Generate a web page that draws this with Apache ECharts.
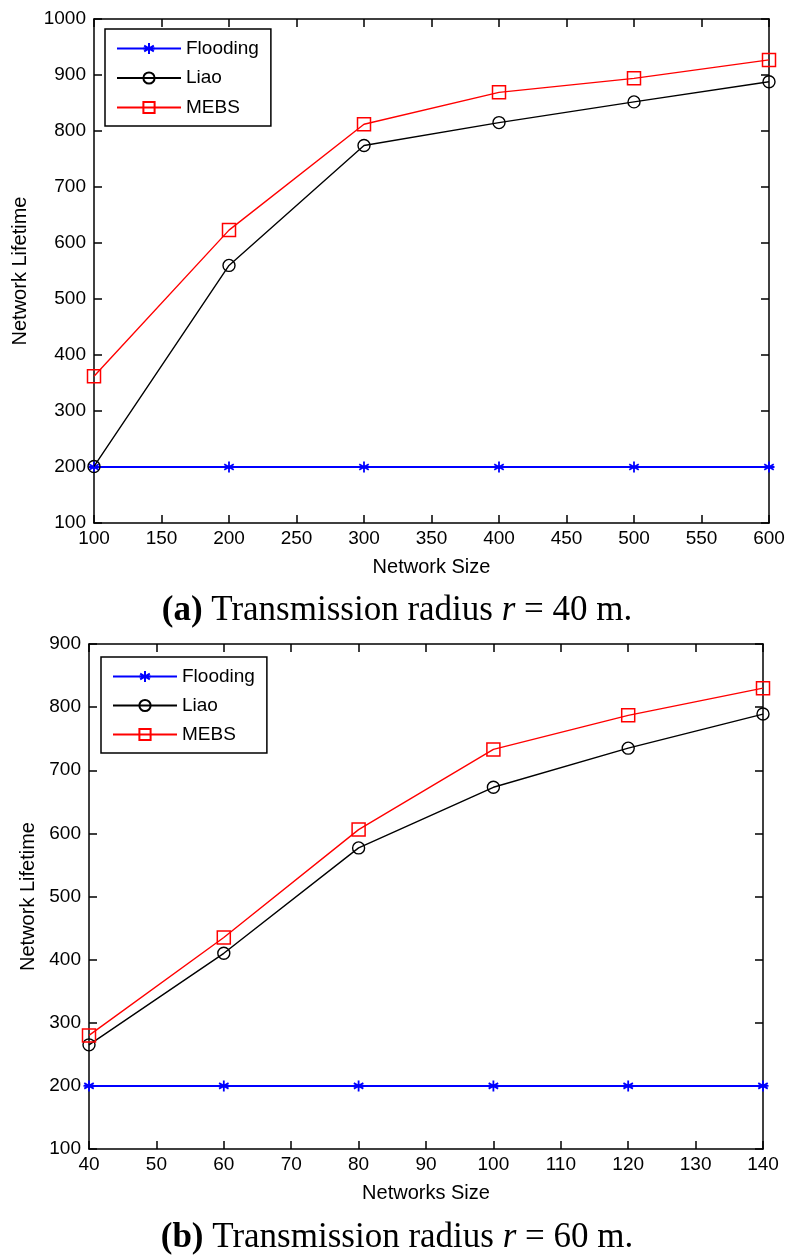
<!DOCTYPE html>
<html><head><meta charset="utf-8">
<script src="https://cdn.jsdelivr.net/npm/echarts@6/dist/echarts.min.js"></script>
<style>html,body{margin:0;padding:0;background:#fff}#c{width:794px;height:1260px}</style>
</head><body><div id="c"></div>
<script>
// Chart (a): r = 40 m
const sizesA = [100, 200, 300, 400, 500, 600];
const floodingA = [200, 200, 200, 200, 200, 200];
const liaoA = [201, 560, 774, 815, 852, 888];
const mebsA = [362, 623, 812, 869, 894, 927];
// Chart (b): r = 60 m
const sizesB = [40, 60, 80, 100, 120, 140];
const floodingB = [200, 200, 200, 200, 200, 200];
const liaoB = [265, 410, 577, 673, 735, 789];
const mebsB = [280, 435, 606, 733, 787, 830];

const seriesNames = ['Flooding', 'Liao', 'MEBS'];
const captionA = ['a', ' Transmission radius ', 'r', ' = 40 m.'];
const captionB = ['b', ' Transmission radius ', 'r', ' = 60 m.'];

const pair = (xs, ys) => xs.map((x, i) => [x, ys[i]]);
const starPath = 'path://M0,-5L0,5M-4.33,-2.5L4.33,2.5M-4.33,2.5L4.33,-2.5M-5,0L5,0';
const FONT = 'Liberation Sans, Arial, sans-serif';
const SERIF = 'Liberation Serif, Times New Roman, serif';

function mkSeries(gi, xs, f, l, m) {
  return [
    {name: seriesNames[0], type: 'line', xAxisIndex: gi*2, yAxisIndex: gi*2, data: pair(xs, f),
     symbol: starPath, symbolSize: 11, color: '#0000ff',
     lineStyle: {color: '#0000ff', width: 2},
     itemStyle: {color: 'none', borderColor: '#0000ff', borderWidth: 1.8}, z: 3},
    {name: seriesNames[1], type: 'line', xAxisIndex: gi*2, yAxisIndex: gi*2, data: pair(xs, l),
     symbol: 'circle', symbolSize: 12, color: '#000',
     lineStyle: {color: '#000', width: 1.4},
     itemStyle: {color: 'rgba(0,0,0,0)', borderColor: '#000', borderWidth: 1.4}, z: 4},
    {name: seriesNames[2], type: 'line', xAxisIndex: gi*2, yAxisIndex: gi*2, data: pair(xs, m),
     symbol: 'rect', symbolSize: 13, color: '#ff0000',
     lineStyle: {color: '#ff0000', width: 1.4},
     itemStyle: {color: 'rgba(0,0,0,0)', borderColor: '#ff0000', borderWidth: 1.5}, z: 5}
  ];
}

const tickStyle = {inside: true, length: 8, lineStyle: {color: '#000', width: 1.5}};
const lineStyleAx = {onZero: false, lineStyle: {color: '#000', width: 1.5}};
function xAxes(gi, min, max, interval, name, gap) {
  return [
    {type: 'value', gridIndex: gi, min: min, max: max, interval: interval, position: 'bottom',
     name: name, nameLocation: 'middle', nameGap: gap,
     nameTextStyle: {fontFamily: FONT, fontSize: 20, color: '#000'},
     axisLine: lineStyleAx, axisTick: tickStyle,
     axisLabel: {fontFamily: FONT, fontSize: 19, color: '#000', margin: 6, formatter: v => String(v)},
     splitLine: {show: false}},
    {type: 'value', gridIndex: gi, min: min, max: max, interval: interval, position: 'top',
     axisLine: lineStyleAx, axisTick: tickStyle,
     axisLabel: {show: false}, splitLine: {show: false}}
  ];
}
function yAxes(gi, min, max, interval, name, gap) {
  return [
    {type: 'value', gridIndex: gi, min: min, max: max, interval: interval, position: 'left',
     name: name, nameLocation: 'middle', nameGap: gap,
     nameTextStyle: {fontFamily: FONT, fontSize: 20, color: '#000'},
     axisLine: lineStyleAx, axisTick: tickStyle,
     axisLabel: {fontFamily: FONT, fontSize: 19, color: '#000', margin: 8, formatter: v => String(v)},
     splitLine: {show: false}},
    {type: 'value', gridIndex: gi, min: min, max: max, interval: interval, position: 'right',
     axisLine: lineStyleAx, axisTick: tickStyle,
     axisLabel: {show: false}, splitLine: {show: false}}
  ];
}

function legend(left, top, gap) {
  return {data: seriesNames, orient: 'vertical', left: left, top: top,
    itemWidth: 64, itemHeight: 14, itemGap: gap,
    backgroundColor: '#fff', borderColor: '#000', borderWidth: 1.5,
    padding: [10, 12, 9, 11], borderRadius: 0,
    textStyle: {fontFamily: FONT, fontSize: 19, color: '#000'}};
}
function caption(parts, top) {
  return {text: '{b|(' + parts[0] + ')}{n|' + parts[1] + '}{i|' + parts[2] + '}{n|' + parts[3] + '}',
    left: 'center', top: top,
    textStyle: {fontWeight: 'normal', rich: {
      b: {fontFamily: SERIF, fontSize: 35, fontWeight: 'bold', color: '#000'},
      n: {fontFamily: SERIF, fontSize: 35, fontWeight: 'normal', color: '#000'},
      i: {fontFamily: SERIF, fontSize: 35, fontWeight: 'normal', fontStyle: 'italic', color: '#000'}
    }}};
}

const chart = echarts.init(document.getElementById('c'), null, {renderer: 'canvas'});
chart.setOption({
  backgroundColor: '#fff',
  animation: false,
  title: [caption(captionA, 588), caption(captionB, 1215)],
  legend: [legend(105, 29, 10.5), legend(101, 657, 10)],
  grid: [
    {left: 94, top: 19, width: 675, height: 504},
    {left: 89, top: 644, width: 674, height: 505}
  ],
  xAxis: [...xAxes(0, 100, 600, 50, 'Network Size', 34), ...xAxes(1, 40, 140, 10, 'Networks Size', 34)],
  yAxis: [...yAxes(0, 100, 1000, 100, 'Network Lifetime', 64), ...yAxes(1, 100, 900, 100, 'Network Lifetime', 50)],
  series: [...mkSeries(0, sizesA, floodingA, liaoA, mebsA), ...mkSeries(1, sizesB, floodingB, liaoB, mebsB)]
});
</script></body></html>
